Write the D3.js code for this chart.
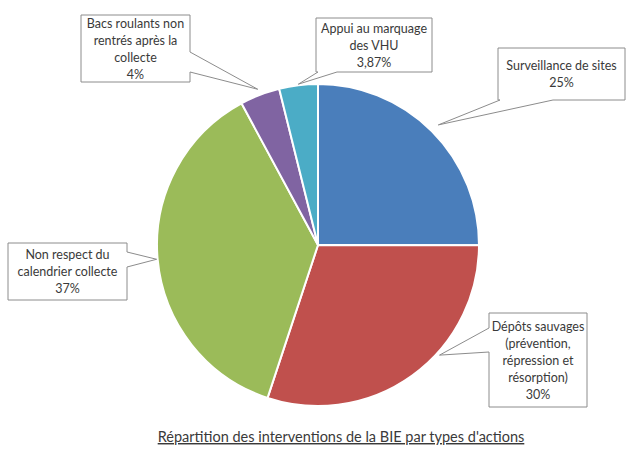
<!DOCTYPE html>
<html><head><meta charset="utf-8">
<script src="https://cdn.jsdelivr.net/npm/d3@7"></script>
<style>body{margin:0;background:#fff}svg{display:block}</style>
</head><body>
<svg id="c" width="627" height="450"></svg>
<script>
const categories = ["Surveillance de sites", "Dépôts sauvages (prévention, répression et résorption)", "Non respect du calendrier collecte", "Bacs roulants non rentrés après la collecte", "Appui au marquage des VHU"];
const values = [25, 30, 37, 4, 3.87];
const valueLabels = ["25%", "30%", "37%", "4%", "3,87%"];
const labelLines = [
  ["Surveillance de sites"],
  ["Dépôts sauvages", "(prévention,", "répression et", "résorption)"],
  ["Non respect du", "calendrier collecte"],
  ["Bacs roulants non", "rentrés après la", "collecte"],
  ["Appui au marquage", "des VHU"]
];
const colors = ["#4a7ebb", "#c0504d", "#9bbb59", "#8064a2", "#4bacc6"];
const title = "Répartition des interventions de la BIE par types d'actions";

// layout of callout boxes
const boxes = [
  {x:498, y:48, w:127, h:52, side:"bottom", a:500, b:553, angOff:0, r:170},
  {x:489, y:313, w:98, h:94, side:"left", a:328, b:352, angOff:-12, r:164},
  {x:8, y:243, w:119, h:57, side:"right", a:252, b:267, angOff:0, r:162},
  {x:81, y:15, w:109, h:67, side:"right", a:52, b:72, angOff:0, r:167},
  {x:316, y:18, w:116, h:54, side:"bottom", a:318, b:337, angOff:0, r:162}
];

const svg = d3.select("#c");
const cx = 318, cy = 245, R = 161;
const pie = d3.pie().sort(null).value(d => d)(values);
const arc = d3.arc().innerRadius(0).outerRadius(R);
const g = svg.append("g").attr("transform", `translate(${cx},${cy})`);
g.selectAll("path").data(pie).join("path")
  .attr("d", arc).attr("fill", (d,i) => colors[i])
  .attr("stroke", "#fff").attr("stroke-width", 2).attr("stroke-linejoin","round");

function calloutPath(bx, tip) {
  const {x, y, w, h, side, a, b} = bx;
  const pts = [];
  const T = [tip[0], tip[1]];
  pts.push([x, y]);
  if (side === "top") { pts.push([Math.min(a,b), y], T, [Math.max(a,b), y]); }
  pts.push([x + w, y]);
  if (side === "right") { pts.push([x + w, Math.min(a,b)], T, [x + w, Math.max(a,b)]); }
  pts.push([x + w, y + h]);
  if (side === "bottom") { pts.push([Math.max(a,b), y + h], T, [Math.min(a,b), y + h]); }
  pts.push([x, y + h]);
  if (side === "left") { pts.push([x, Math.max(a,b)], T, [x, Math.min(a,b)]); }
  return "M" + pts.map(p => p.join(",")).join("L") + "Z";
}

const lab = svg.append("g");
pie.forEach((d, i) => {
  const bx = boxes[i];
  const ang = (d.startAngle + d.endAngle) / 2 + bx.angOff * Math.PI / 180;
  const tip = [cx + Math.sin(ang) * bx.r, cy - Math.cos(ang) * bx.r];
  lab.append("path").attr("d", calloutPath(bx, tip))
    .attr("fill", "#fff").attr("stroke", "#8c8c8c").attr("stroke-width", 1);
  const lines = labelLines[i].concat([valueLabels[i]]);
  const lh = 17;
  const y0 = bx.y + bx.h / 2 - (lines.length - 1) * lh / 2 + 4.5;
  const t = lab.append("text").attr("text-anchor", "middle")
    .attr("font-family", "Lato, 'Open Sans', sans-serif").attr("font-size", 12.5)
    .attr("fill", "#3a3a3a");
  lines.forEach((l, k) => t.append("tspan").attr("x", bx.x + bx.w / 2).attr("y", y0 + k * lh).text(l));
});

svg.append("text").attr("x", 341).attr("y", 442).attr("text-anchor", "middle")
  .attr("font-family", "Lato, 'Open Sans', sans-serif").attr("font-size", 14.5)
  .attr("fill", "#3a3a3a").attr("text-decoration", "underline").text(title);
</script>
</body></html>
